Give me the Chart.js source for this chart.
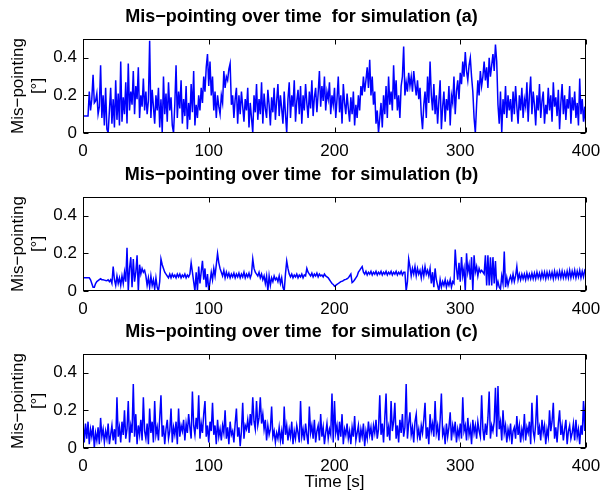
<!DOCTYPE html>
<html>
<head>
<meta charset="utf-8">
<script src="https://cdn.jsdelivr.net/npm/chart.js@4.4.0/dist/chart.umd.min.js"></script>
<style>
  body { margin: 0; background: #fff; }
  #wrap { position: relative; width: 603px; height: 495px; }
  canvas { position: absolute; left: 0; }
</style>
</head>
<body>
<div id="wrap">
  <canvas id="chart-a" width="603" height="157" style="top:0px"></canvas>
  <canvas id="chart-b" width="603" height="157" style="top:158px"></canvas>
  <canvas id="chart-c" width="603" height="180" style="top:315px"></canvas>
</div>
<script>
// one sample per second, 0..400 s
const timeS = Array.from({ length: 401 }, (_, i) => i);

const xTicks = [0, 100, 200, 300, 400];
const yTicks = [0, 0.2, 0.4];
const yTickLabels = ['0', '0.2', '0.4'];

// mis-pointing [deg], simulation (a)
const misA = [
  .09,.09,.09,.09,.09,.22,.12,.18,.31,.16,
  .17,.21,.1,.14,.36,.08,.2,.04,.24,.02,
  0,.12,.24,.05,.18,.03,.28,.07,.21,.04,
  .38,.06,.19,.1,.27,.05,.37,.12,.22,.15,
  .33,.1,.25,.18,.35,.08,.2,.14,.29,.12,
  .22,.1,.17,.49,.08,.23,.14,.05,.2,.12,
  .24,.03,.18,0,.3,.1,.21,.06,.27,.12,
  .19,.04,0,.15,.36,.08,.22,.13,.28,.05,
  .18,.09,.25,.02,.16,.07,.26,.11,.33,.04,
  .15,.08,.2,.12,.24,.16,.3,.22,.35,.42,
  .25,.38,.2,.3,.12,.22,.08,.2,.14,.1,
  .2,.16,.33,.24,.3,.28,.34,.37,.15,.2,
  .08,.18,.24,.05,.2,.1,.22,.14,.06,.18,
  .12,.24,.03,.16,.08,0,.2,.11,.26,.07,
  .18,.1,.27,.05,.21,.13,.08,.23,.15,.04,
  .19,.11,.24,.07,.17,.26,.09,.2,.13,.05,
  .22,.1,0,.18,.27,.08,.2,.14,.28,.06,
  .17,.23,.1,.25,.05,.2,.12,.26,.16,.08,
  .22,.13,.28,.09,.19,.24,.11,.21,.33,.14,
  .25,.17,.3,.12,.22,.18,.27,.1,.2,.15,
  .24,.08,.18,.3,.11,.2,.05,.26,.16,.1,
  .21,.13,.06,.19,.1,.22,.04,.15,.08,.2,
  .12,.25,.2,.3,.22,.28,.35,.24,.39,.2,
  .3,.15,.22,.05,.12,0,.08,.16,.03,.2,
  .1,.25,.08,.3,.15,.22,.12,.36,.18,.28,
  .12,.2,.08,.25,.3,.46,.2,.27,.22,.32,
  .25,.3,.22,.33,.26,.2,.28,.18,.24,.1,
  .02,.15,.22,.08,.3,.16,.38,.2,.12,.26,
  .1,.2,.05,.17,.28,.02,.14,.22,.06,.18,
  .12,.25,.04,.2,.16,.3,.1,.22,.28,.18,
  .32,.26,.38,.3,.43,.33,.28,.36,.4,.3,
  .22,.08,0,.15,.28,.2,.33,.25,.3,.38,
  .28,.35,.24,.4,.3,.36,.42,.33,.47,.38,
  .15,.05,.22,0,.18,.1,.25,.08,.2,.12,
  .18,.06,.22,.1,.25,.14,.05,.2,.12,.24,
  .08,.18,.14,.27,.06,.2,.3,.1,.22,.15,
  .04,.2,.12,.26,.08,.17,.22,.05,.15,.1,
  .24,.12,.2,.06,.27,.14,.19,.09,.23,.02,
  .16,.26,.1,.2,.07,.18,.13,.25,.05,.19,
  .12,.22,.08,.16,.04,.29,.1,.18,.06,.14,
  .02
];

// simulation (b)
const misB = [
  .07,.07,.07,.07,.07,.07,.06,.04,.02,.02,
  .04,.05,.055,.06,.065,.06,.06,.058,.056,.055,
  .06,.05,.06,.04,.13,.06,.03,.08,.04,.07,
  .03,.08,.04,.1,.05,.23,0,.12,.18,.02,
  .17,.05,.1,.19,0,.14,.09,.12,.1,.11,
  .08,.03,.07,.02,.08,.03,.06,.01,.07,.02,
  0,.05,.17,.14,.12,.1,.09,.08,.07,.09,
  .07,.09,.075,.085,.07,.09,.075,.09,.07,.085,
  .075,.09,.07,.085,.075,.09,.15,.1,.05,0,
  .1,0,.13,.04,.1,.16,.06,.12,.02,.09,
  0,.05,.1,.06,.12,.08,.14,.2,.15,.12,
  .1,.08,.11,.07,.1,.075,.095,.07,.09,.075,
  .095,.07,.09,.075,.095,.07,.09,.075,.1,.07,
  .09,.075,.095,.07,.09,.17,.12,.1,.09,.08,
  .1,.07,.09,.06,.08,.04,.08,0,.08,.03,
  .07,.05,.08,.06,.07,.05,.08,.04,.07,.02,
  0,.09,.16,.12,.09,.075,.09,.07,.085,.075,
  .09,.07,.085,.075,.09,.07,.085,.08,.12,.1,
  .09,.08,.095,.075,.09,.08,.095,.075,.09,.08,
  .085,.075,.09,.08,.075,.07,.06,.05,.04,.035,
  .025,.03,.035,.04,.045,.05,.052,.055,.06,.062,
  .065,.07,.08,.09,.045,.05,.06,.07,.08,.1,
  .11,.12,.13,.1,.09,.105,.085,.1,.09,.105,
  .085,.1,.09,.105,.085,.1,.09,.105,.085,.1,
  .09,.105,.085,.1,.09,.105,.085,.1,.09,.105,
  .085,.1,.09,.105,.085,.1,.1,0,.05,.17,
  .13,.08,.12,.09,.13,.08,.12,.09,.11,.07,
  .12,.08,.13,.09,.11,.08,.12,.04,.1,.02,
  .12,.06,.03,0,.06,.02,.05,.03,.06,.02,
  .05,.03,.06,.02,.05,.04,.22,.12,.06,.15,
  .05,.18,.08,.12,0,.2,.1,.14,.06,.18,
  0,.19,.1,.13,.08,.12,.1,.11,.1,.09,
  .19,.03,.19,.03,.18,.03,.18,.04,.16,.02,
  .05,.02,.01,.08,.04,.21,.02,.07,.03,.06,
  .08,.05,.09,.05,.08,.13,.06,.09,.06,.09,
  .065,.09,.06,.095,.065,.09,.065,.095,.065,.095,
  .065,.1,.07,.095,.065,.1,.07,.1,.065,.1,
  .07,.1,.07,.1,.065,.105,.07,.1,.07,.105,
  .07,.105,.07,.1,.07,.105,.07,.11,.07,.105,
  .075,.11,.07,.105,.075,.11,.07,.105,.075,.11,
  .1
];

// simulation (c)
const misC = [
  .14,.03,.13,.05,.14,.02,.1,.06,.12,0,
  .08,.04,.11,.02,.16,.06,.1,.03,.09,.05,
  .13,.02,.07,.12,.04,.1,.02,.27,.06,.11,
  .03,.14,.07,.2,.05,.1,.25,.03,.12,.08,
  .34,.06,.18,.02,.12,.07,.15,.04,.27,.09,
  .05,.13,.02,.21,.08,.14,.03,.25,.07,.11,
  .04,.16,.28,.06,.12,.02,.1,.15,.05,.09,
  .21,.03,.11,.07,.14,.02,.21,.06,.12,.09,
  .15,.04,.13,.08,.18,.11,.05,.3,.12,.07,
  .16,.1,.28,.05,.13,.08,.18,.25,.06,.12,
  .03,.14,.09,.24,.07,.12,.02,.15,.06,.1,
  .04,.12,.08,.2,.05,.11,.02,.14,.07,.09,
  .03,.13,.21,.06,.11,.01,.09,.24,.05,.12,
  .1,.15,.08,.18,.12,.27,.14,.1,.25,.12,
  .16,.27,.13,.18,.1,.15,.04,.12,.07,.1,
  .22,.06,.09,.03,.08,.05,.11,.04,.09,.02,
  .22,.07,.12,.04,.1,.06,.14,.02,.09,.05,
  .12,.08,.03,.25,.06,.1,.04,.13,.07,.02,
  .22,.08,.12,.05,.15,.03,.09,.12,.04,.18,
  .06,.11,.02,.08,.13,.05,.1,.07,.29,.03,
  .25,.08,.12,.04,.14,.06,.18,.02,.1,.07,
  .13,.05,.09,.02,.11,.06,.17,.04,.08,.12,
  .03,.1,.06,.13,.01,.09,.05,.14,.07,.11,
  .04,.12,.08,.15,.05,.1,.28,.07,.13,.03,
  .16,.29,.06,.11,.04,.25,.09,.14,.24,.05,
  .12,.03,.15,.08,.18,.06,.11,.34,.05,.13,
  .19,.07,.11,.03,.14,.18,.06,.1,.04,.12,
  .08,.15,.24,.05,.11,.02,.18,.09,.13,.06,
  .25,.08,.12,.04,.15,.29,.07,.1,.02,.13,
  .06,.11,.19,.04,.12,.08,.14,.03,.1,.06,
  .13,.05,.27,.09,.12,.04,.16,.07,.11,.02,
  .15,.08,.12,.05,.14,.09,.06,.28,.1,.04,
  .13,.07,.16,.3,.05,.12,.09,.14,.32,.06,
  .33,.1,.14,.04,.2,.08,.12,.03,.1,.06,
  .13,.02,.09,.11,.05,.17,.07,.12,.03,.1,
  .06,.18,.04,.11,.08,.14,.02,.24,.09,.05,
  .13,.28,.07,.11,.04,.15,.08,.12,.02,.1,
  .06,.2,.09,.14,.24,.05,.11,.03,.13,.2,
  .07,.12,.04,.1,.15,.02,.09,.12,.05,.08,
  .13,.04,.15,.06,.1,.02,.12,.07,.25,.09,
  .3
];

const font = 'Liberation Sans, Arial, Helvetica, sans-serif';

// matlab style box with inward ticks on all four sides
const matlabBox = {
  id: 'matlabBox',
  afterDatasetsDraw(chart) {
    const { ctx, chartArea: a, scales } = chart;
    const L = Math.round(a.left) + 0.5, R = Math.round(a.right) - 0.5;
    const T = Math.round(a.top) + 0.5, B = Math.round(a.bottom) - 0.5;
    ctx.save();
    ctx.strokeStyle = '#000';
    ctx.lineWidth = 1;
    ctx.beginPath();
    scales.x.ticks.forEach(t => {
      const px = Math.round(scales.x.getPixelForValue(t.value)) + 0.5;
      ctx.moveTo(px, B); ctx.lineTo(px, B - 5);
      ctx.moveTo(px, T); ctx.lineTo(px, T + 5);
    });
    scales.y.ticks.forEach(t => {
      const py = Math.round(scales.y.getPixelForValue(t.value)) + 0.5;
      ctx.moveTo(L, py); ctx.lineTo(L + 5, py);
      ctx.moveTo(R, py); ctx.lineTo(R - 5, py);
    });
    ctx.stroke();
    ctx.strokeRect(L, T, R - L, B - T);
    ctx.restore();
  }
};

function makePanel(id, title, values, xHeight, showXTitle) {
  new Chart(document.getElementById(id), {
    type: 'line',
    data: {
      datasets: [{
        data: values.map((v, i) => ({ x: timeS[i], y: v })),
        borderColor: '#0000ff',
        borderWidth: 1.5,
        pointRadius: 0,
        tension: 0,
        fill: false
      }]
    },
    options: {
      responsive: false,
      animation: false,
      events: [],
      layout: { padding: 0 },
      plugins: {
        legend: { display: false },
        tooltip: { enabled: false },
        title: {
          display: true,
          text: title,
          color: '#000',
          font: { family: font, size: 18, weight: 'bold', lineHeight: 1.2 },
          padding: { top: 6.2, bottom: 11.2 }
        }
      },
      scales: {
        x: {
          type: 'linear',
          min: 0,
          max: 400,
          afterBuildTicks: s => { s.ticks = xTicks.map(v => ({ value: v })); },
          afterFit: s => {
            s.height = xHeight;
            s.paddingLeft = 0;
            s.paddingRight = 0;
          },
          grid: { display: false, drawTicks: false },
          border: { display: false },
          ticks: {
            color: '#000',
            padding: 8,
            maxRotation: 0,
            font: { family: font, size: 17 },
            callback: (v, i) => String(xTicks[i])
          },
          title: {
            display: showXTitle,
            text: 'Time [s]',
            color: '#000',
            font: { family: font, size: 17, lineHeight: 1.2 },
            padding: { top: 0, bottom: 2 }
          }
        },
        y: {
          min: 0,
          max: 0.5,
          afterBuildTicks: s => { s.ticks = yTicks.map(v => ({ value: v })); },
          afterFit: s => { s.width = 83; },
          grid: { display: false, drawTicks: false },
          border: { display: false },
          ticks: {
            color: '#000',
            padding: 6,
            font: { family: font, size: 17 },
            callback: (v, i) => yTickLabels[i]
          },
          title: {
            display: true,
            text: ['Mis\u2212pointing', '[\u00b0]'],
            color: '#000',
            font: { family: font, size: 17, lineHeight: 1.2 },
            padding: { top: 8, bottom: 0 }
          }
        },
        y2: {
          position: 'right',
          afterFit: s => { s.width = 17; },
          grid: { display: false, drawTicks: false },
          border: { display: false },
          ticks: { display: false }
        }
      }
    },
    plugins: [matlabBox]
  });
}

makePanel('chart-a', 'Mis\u2212pointing over time  for simulation (a)', misA, 24, false);
makePanel('chart-b', 'Mis\u2212pointing over time  for simulation (b)', misB, 24, false);
makePanel('chart-c', 'Mis\u2212pointing over time  for simulation (c)', misC, 47, true);
</script>
</body>
</html>
